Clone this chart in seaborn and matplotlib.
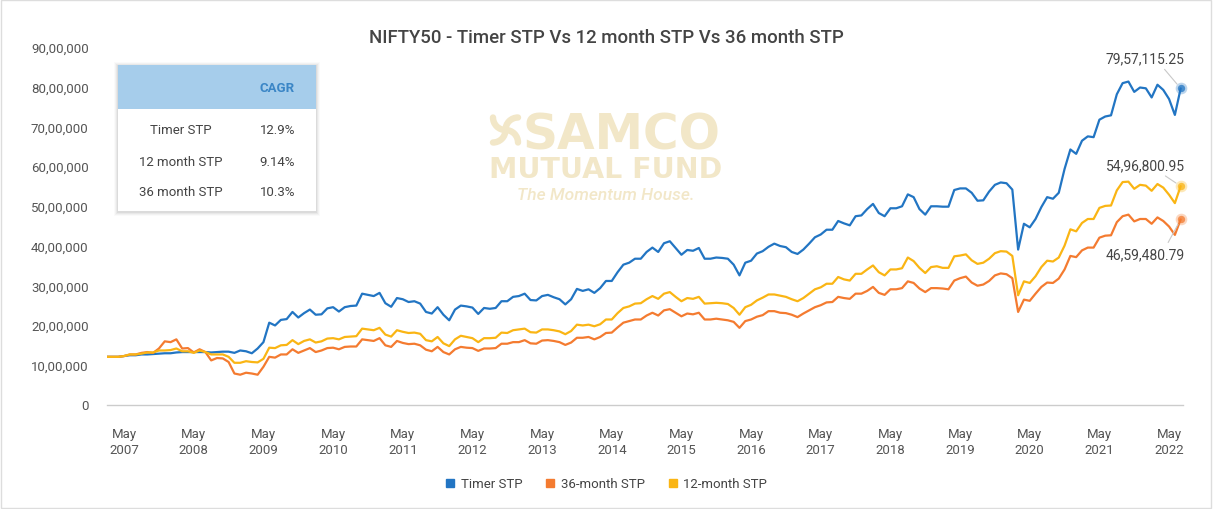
import pandas as pd
import matplotlib
matplotlib.use("Agg")
import matplotlib.pyplot as plt
from matplotlib.patches import Rectangle, Arc
from matplotlib.lines import Line2D
from matplotlib.ticker import FuncFormatter
import seaborn as sns

# portfolio value in lakh (1 lakh = 1,00,000), one point per month from Feb 2007
timer_stp = [
    12.0, 12.0, 12.0, 12.2, 12.4, 12.4, 12.6, 12.6, 12.7, 12.8, 12.9, 12.9, 13.1, 13.2, 13.2, 13.2,
    13.2, 13.2, 13.1, 13.2, 13.3, 13.3, 13.0, 13.6, 13.4, 12.9, 14.1, 15.7, 20.6, 19.9, 21.3, 21.5,
    23.3, 21.9, 23.0, 23.9, 22.6, 22.7, 24.2, 24.5, 23.4, 24.5, 24.8, 24.9, 27.9, 27.6, 27.3, 28.1,
    25.5, 24.6, 26.8, 26.5, 25.8,
    26.0, 25.4, 23.3, 22.9, 24.5, 22.6, 21.2, 23.9, 24.9, 24.7, 24.4, 22.8, 24.3, 24.1, 24.3, 26.0,
    26.0, 27.1, 27.3, 27.9, 26.3, 26.2, 27.3, 27.6, 27.0, 26.5, 25.2, 26.5, 29.1, 28.6, 29.0, 28.1,
    29.3, 31.1, 31.1, 33.3, 35.2, 35.7, 36.7, 36.7, 38.4, 39.5, 38.4, 40.6, 41.1, 39.4, 37.7, 38.9,
    38.7, 39.4, 36.7, 36.7, 37.0,
    36.9, 36.7, 35.2, 32.5, 35.7, 36.2, 38.0, 38.6, 39.7, 40.5, 39.9, 39.6, 38.4, 37.9, 39.0, 40.5,
    42.1, 42.8, 44.0, 44.0, 46.2, 45.6, 45.1, 47.4, 47.6, 49.2, 50.5, 48.2, 47.4, 49.4, 49.4, 49.9,
    52.9, 52.2, 49.2, 47.8, 49.9, 49.9, 49.8, 49.8, 54.0, 54.4,
    54.4, 53.3, 51.3, 51.4, 53.6, 55.3, 55.9, 55.7, 54.1, 39.0, 45.5, 44.6, 46.7, 49.7, 52.2, 51.8,
    53.3, 59.3, 64.2, 63.1, 66.4, 67.5, 67.3, 71.7, 72.5, 72.8, 78.1, 80.9, 81.3, 78.7, 79.8, 79.6,
    77.3, 80.5, 79.2, 76.9, 72.9, 79.5711525,
]
stp_12m = [
    12.0, 12.0, 12.0, 12.2, 12.6, 12.6, 12.8, 13.1, 13.1, 13.6, 13.6, 13.7, 14.1, 13.4, 13.4, 13.0,
    13.6, 13.2, 12.6, 12.6, 12.6, 12.0, 10.5, 10.5, 10.9, 10.7, 10.6, 11.5, 14.3, 14.2, 14.9, 15.0,
    16.2, 15.2, 16.0, 16.4, 15.6, 15.9, 16.6, 16.7, 16.4, 17.0, 17.1, 17.2, 19.1, 18.9, 18.7, 19.3,
    17.6, 17.1, 18.7, 18.3, 18.0,
    18.1, 17.8, 16.2, 15.9, 17.0, 15.4, 14.7, 16.4, 17.3, 17.0, 16.7, 15.7, 16.7, 16.7, 16.8, 18.1,
    18.0, 18.7, 18.9, 19.1, 18.2, 18.1, 18.9, 18.9, 18.7, 18.4, 17.7, 18.5, 20.1, 19.9, 20.1, 19.7,
    20.2, 21.4, 21.4, 23.0, 24.3, 24.7, 25.4, 25.5, 26.5, 27.3, 26.6, 27.9, 28.3, 27.1, 26.0, 26.8,
    26.6, 27.1, 25.4, 25.5, 25.6,
    25.5, 25.3, 24.3, 22.6, 24.5, 25.1, 26.2, 26.9, 27.7, 27.7, 27.4, 27.1, 26.5, 26.0, 26.8, 27.9,
    29.0, 29.5, 30.4, 30.4, 32.1, 31.5, 31.2, 32.9, 32.9, 34.0, 35.0, 33.3, 32.5, 34.0, 34.0, 34.3,
    37.0, 36.1, 34.4, 33.1, 34.6, 34.8, 34.4, 34.4, 37.3, 37.5,
    37.8, 36.3, 35.4, 35.7, 36.7, 38.1, 38.6, 38.5, 37.4, 27.5, 31.0, 30.6, 32.3, 34.6, 36.2, 36.0,
    37.0, 40.0, 44.1, 43.6, 45.7, 46.7, 46.7, 49.5, 50.0, 50.1, 53.9, 56.0, 56.1, 54.3, 55.3, 55.1,
    53.8, 55.5, 54.6, 52.8, 50.7, 54.9680095,
]
stp_36m = [
    12.0, 12.0, 12.0, 12.2, 12.6, 12.6, 13.0, 13.2, 13.0, 14.1, 15.9, 15.7, 16.4, 14.1, 14.2, 13.1,
    13.9, 13.2, 11.1, 11.7, 11.6, 10.7, 7.8, 7.5, 8.0, 7.8, 7.5, 9.5, 12.0, 11.8, 12.6, 12.6,
    13.9, 13.0, 13.6, 14.2, 13.2, 13.6, 14.2, 14.3, 13.9, 14.5, 14.6, 14.6, 16.4, 16.2, 16.0, 16.7,
    14.9, 14.5, 16.0, 15.5, 15.2,
    15.3, 14.9, 13.8, 13.4, 14.5, 13.2, 12.6, 13.9, 14.5, 14.3, 14.2, 13.5, 14.1, 14.1, 14.2, 15.3,
    15.3, 15.7, 15.7, 16.2, 15.4, 15.3, 16.1, 16.2, 16.0, 15.7, 15.0, 15.6, 16.8, 16.8, 17.0, 16.4,
    17.0, 18.0, 18.1, 19.4, 20.6, 21.0, 21.4, 21.4, 22.4, 23.1, 22.4, 23.7, 24.0, 23.1, 22.2, 22.9,
    22.7, 23.1, 21.4, 21.4, 21.6,
    21.4, 21.2, 20.8, 19.3, 21.0, 21.4, 22.1, 22.5, 23.5, 23.5, 23.1, 23.0, 22.6, 22.0, 22.9, 23.7,
    24.5, 25.0, 25.7, 25.8, 27.1, 26.8, 26.6, 27.9, 27.9, 28.6, 29.6, 28.1, 27.6, 29.0, 29.0, 29.3,
    31.0, 30.6, 29.2, 28.3, 29.3, 29.3, 29.2, 29.0, 31.2, 31.8,
    32.2, 30.7, 29.9, 30.2, 31.1, 32.5, 33.0, 32.8, 31.8, 23.3, 26.4, 26.1, 27.9, 29.6, 30.7, 30.6,
    31.7, 34.0, 37.4, 37.1, 38.8, 39.5, 39.5, 42.0, 42.5, 42.6, 45.9, 47.4, 47.8, 46.1, 46.7, 46.7,
    45.5, 47.1, 46.2, 44.8, 42.7, 46.5948079,
]

series_names = ["Timer STP", "36-month STP", "12-month STP"]
series_colors = ["#2275c3", "#f47b30", "#fab514"]
cagr_names = ["Timer STP", "12 month STP", "36 month STP"]
cagr_values = ["12.9%", "9.14%", "10.3%"]
end_values = [7957115.25, 5496800.95, 4659480.79]

months = pd.date_range("2007-02-01", periods=len(timer_stp), freq="MS")
frames = []
for name, vals in zip(series_names, [timer_stp, stp_36m, stp_12m]):
    frames.append(pd.DataFrame({"month": range(len(vals)), "value": [v * 1e5 for v in vals],
                                "series": name}))
df = pd.concat(frames, ignore_index=True)


def inr(v, pos=None):
    s = str(int(round(v)))
    if len(s) <= 3:
        return s
    head, tail = s[:-3], s[-3:]
    parts = []
    while len(head) > 2:
        parts.insert(0, head[-2:])
        head = head[:-2]
    if head:
        parts.insert(0, head)
    return ",".join(parts + [tail])


def fx(x):
    return x / 1213


def fy(y):
    return 1 - y / 510


sns.set_theme(style="white")
plt.rcParams["font.family"] = ["Roboto", "DejaVu Sans"]

fig = plt.figure(figsize=(12.13, 5.10), dpi=100)
ax = fig.add_axes([fx(106.7), fy(405.5), (1183 - 106.7) / 1213, (405.5 - 48) / 510])
ax.patch.set_alpha(0)

# watermark
wm = "#f2e7c8"
ax.text(fx(621), fy(150), "SAMCO", transform=fig.transFigure, ha="center", va="baseline",
        fontsize=35, fontweight="bold", family="DejaVu Sans", color=wm, zorder=0)
ax.text(fx(606), fy(178), "MUTUAL FUND", transform=fig.transFigure, ha="center", va="baseline",
        fontsize=20.5, fontweight="bold", family="DejaVu Sans", color=wm, zorder=0)
ax.text(fx(606), fy(200), "The Momentum House.", transform=fig.transFigure, ha="center",
        va="baseline", fontsize=12.5, fontstyle="italic", fontweight="medium", color=wm, zorder=0)
# pinwheel mark left of the word
cx, cy, r = 5.055, (510 - 131) / 100, 0.125
for k in range(4):
    ang = 90 * k
    ox = [0, -r, 0, r][k]
    oy = [r, 0, -r, 0][k]
    arm = Arc((cx + ox, cy + oy), 2 * r, 2 * r, theta1=180 + ang, theta2=270 + ang,
              transform=fig.dpi_scale_trans, color=wm, lw=4.6, zorder=0)
    arm.set_capstyle("round")
    fig.add_artist(arm)

sns.lineplot(data=df, x="month", y="value", hue="series", hue_order=series_names,
             palette=series_colors, estimator=None, linewidth=1.6, legend=False, ax=ax, zorder=3)

ax.set_xlim(0, 185.4)
ax.set_ylim(0, 9e6)
ax.set_yticks([i * 1e6 for i in range(10)])
ax.yaxis.set_major_formatter(FuncFormatter(inr))
may_pos = [i for i, m in enumerate(months) if m.month == 5]
ax.set_xticks(may_pos)
ax.set_xticklabels([f"May\n{months[i].year}" for i in may_pos], linespacing=1.3)
ax.set_xticks(range(0, len(months), 4), minor=True)
ax.tick_params(axis="x", which="major", length=0, pad=16, labelsize=9.5, labelcolor="#555555")
ax.tick_params(axis="x", which="minor", length=4, width=0.8, color="#cccccc", direction="out")
ax.tick_params(axis="y", length=0, pad=13, labelsize=9.5, labelcolor="#555555")
ax.set_xlabel("")
ax.set_ylabel("")
for side in ["top", "right", "left"]:
    ax.spines[side].set_visible(False)
ax.spines["bottom"].set_color("#cccccc")
ax.spines["bottom"].set_linewidth(1)

# end points and their labels
offsets = [(-25.6, 21.9, (0.7, 0)), (-25.6, 15.3, (0.68, 0)), (-25.6, -24.9, (0.76, 1))]
last = len(timer_stp) - 1
order = [0, 2, 1]  # timer, 12-month, 36-month
for k, idx in enumerate(order):
    color = series_colors[idx]
    val = end_values[k]
    ax.scatter([last], [val], s=70, color=color, alpha=0.3, linewidths=0, zorder=4, clip_on=False)
    ax.scatter([last], [val], s=28, color=color, alpha=0.75, linewidths=0, zorder=5, clip_on=False)
    whole = int(val)
    text = inr(whole) + f"{val - whole:.2f}"[1:]
    dx, dy, rel = offsets[k]
    ax.annotate(text, xy=(last, val), xytext=(dx, dy), textcoords="offset points",
                ha="center", va="center", fontsize=10, color="#444444", zorder=6,
                arrowprops=dict(arrowstyle="-", color="#c8c8c8", lw=0.8, shrinkA=1, shrinkB=4,
                                relpos=rel))

# CAGR table
for k, a in enumerate([0.05, 0.04, 0.03, 0.02]):
    g = k + 1
    fig.add_artist(Rectangle((fx(118 - g), fy(212 + g + 1)), (198 + 2 * g) / 1213,
                             (146 + 2 * g) / 510, transform=fig.transFigure, facecolor="black",
                             edgecolor="none", alpha=a, zorder=7))
fig.add_artist(Rectangle((fx(118), fy(212)), 198 / 1213, 146 / 510, transform=fig.transFigure,
                         facecolor="white", edgecolor="none", zorder=8))
fig.add_artist(Rectangle((fx(118), fy(110)), 198 / 1213, 44 / 510, transform=fig.transFigure,
                         facecolor="#a6cdeb", edgecolor="none", zorder=9))
fig.text(fx(295), fy(88), "CAGR", ha="right", va="center", fontsize=9.5, fontweight="bold",
         color="#3b86c6", zorder=10)
for k, (name, val) in enumerate(zip(cagr_names, cagr_values)):
    y = 131 + 31 * k
    fig.text(fx(181), fy(y), name, ha="center", va="center", fontsize=9.5, color="#444444",
             zorder=10)
    fig.text(fx(295), fy(y), val, ha="right", va="center", fontsize=9.5, color="#444444",
             zorder=10)

fig.text(fx(606), fy(38), "NIFTY50 - Timer STP Vs 12 month STP Vs 36 month STP", ha="center",
         va="center", fontsize=13.4, fontweight="medium", color="#444444")

handles = [Line2D([0], [0], marker="s", linestyle="none", markersize=6, markerfacecolor=c,
                  markeredgecolor=c) for c in series_colors]
fig.legend(handles, series_names, loc="center", bbox_to_anchor=(fx(606), fy(485)), ncol=3,
           frameon=False, fontsize=9.5, handlelength=0.8, handletextpad=0.4, columnspacing=1.7,
           labelcolor="#444444")

fig.add_artist(Rectangle((0.001, 0.002), 0.997, 0.996, transform=fig.transFigure, fill=False,
                         edgecolor="#dddddd", linewidth=1))

fig.savefig("out.png", dpi=100)
